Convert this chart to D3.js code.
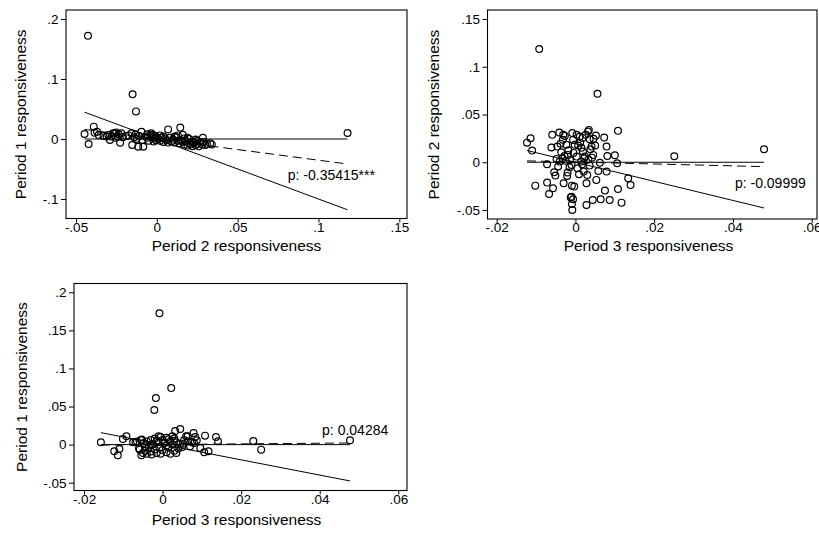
<!DOCTYPE html>
<html><head><meta charset="utf-8">
<script src="https://cdn.jsdelivr.net/npm/d3@7"></script>
<style>
html,body{margin:0;padding:0;background:#fff;}
svg{display:block;font-family:"Liberation Sans",Arial,sans-serif;}
</style></head>
<body>
<svg id="chart" width="819" height="535"></svg>
<script>
// ---------------- DATA ----------------
// Panel 1: x = Period 2 responsiveness, y = Period 1 responsiveness
const panel1Points = [
[-0.0426,0.172],[-0.015,0.0744],[-0.0129,0.046],[0.118,0.010],
[-0.0447,0.0083],[-0.0422,-0.0083],[-0.039,0.0206],[-0.0385,0.0106],[-0.037,0.012],[-0.036,0.0067],
[-0.033,0.005],[-0.031,0.004],[-0.030,0.0067],[-0.029,-0.0017],[-0.028,0.004],[-0.027,0.0094],
[-0.026,0.0094],[-0.0255,0.002],[-0.025,0.011],[-0.024,0.0039],[-0.0235,0.008],[-0.0227,-0.0061],
[-0.022,0.0094],[-0.021,0.003],[-0.019,0.005],[-0.0175,0.006],[-0.0156,0.0094],[-0.0152,-0.010],
[-0.014,0.003],[-0.013,0.008],[-0.0125,0.0],[-0.0115,-0.0128],[-0.011,0.005],[-0.0095,0.012],
[-0.009,-0.0017],[-0.0084,-0.0128],[-0.007,0.004],[-0.006,0.002],[-0.005,-0.003],[-0.004,0.006],
[-0.0035,0.0094],[-0.003,0.003],[-0.0025,0.007],[-0.002,-0.004],[-0.0015,0.001],[-0.001,0.005],
[-0.0005,-0.002],[0.0,0.003],[0.001,0.0],[0.002,-0.003],[0.003,0.002],[0.004,-0.005],[0.005,0.001],
[0.006,-0.002],[0.007,0.016],[0.007,-0.006],[0.008,0.002],[0.009,-0.004],[0.010,-0.001],[0.011,-0.006],
[0.012,0.003],[0.013,-0.003],[0.0145,0.019],[0.014,-0.007],[0.015,-0.002],[0.016,-0.005],[0.016,0.007],
[0.017,-0.009],[0.018,-0.004],[0.019,-0.011],[0.019,0.002],[0.020,-0.007],[0.021,-0.009],[0.022,-0.004],
[0.022,-0.012],[0.023,-0.006],[0.024,-0.01],[0.025,-0.003],[0.025,-0.008],[0.026,-0.012],[0.027,-0.006],
[0.028,-0.009],[0.0285,0.0022],[0.029,-0.005],[0.030,-0.01],[0.031,-0.008],[0.033,-0.007],[0.034,-0.009],
[0.002,0.006],[0.004,0.004],[-0.006,0.008],[0.011,0.004],[0.013,0.006],[0.017,0.001],[0.020,0.0],[0.024,-0.001]
];
// Panel 2: x = Period 3 responsiveness, y = Period 2 responsiveness
const panel2Points = [
[-0.0092,0.1185],[0.0056,0.0717],[0.0479,0.0136],[0.0251,0.0063],
[-0.0123,0.0205],[-0.0114,0.0252],[-0.011,0.0122],[-0.0102,-0.0245],[-0.0072,-0.0213],[-0.0067,-0.0332],
[-0.0057,-0.0273],[-0.0072,-0.0021],[-0.0059,0.0287],[-0.0054,-0.0105],[-0.0051,-0.014],[-0.0061,0.0154],
[-0.0046,0.0164],[-0.0041,0.0311],[-0.0031,0.0287],[-0.0027,0.0276],[-0.0023,0.0182],[-0.003,-0.022],
[-0.0021,-0.0143],[-0.002,-0.0108],[-0.0009,-0.0245],[-0.0003,-0.0255],[-0.001,-0.036],[-0.0006,-0.0388],
[-0.0009,-0.0437],[-0.0008,-0.05],[-0.0012,-0.037],
[0.0028,-0.0448],[0.0044,-0.0395],[0.0064,-0.0388],[0.0087,-0.0395],[0.0117,-0.0423],[0.0075,-0.0297],
[0.0108,-0.028],[0.0134,-0.0168],[0.014,-0.0238],[0.0108,0.0329],[0.01,0.0073],[0.0106,-0.001],
[0.0079,0.0164],[0.0073,0.0259],[0.0081,0.0066],[0.0079,-0.0098],[0.0058,-0.0091],[0.0053,-0.0185],
[0.0052,0.028],[0.005,0.0175],[0.0045,0.0077],[0.0034,0.0339],[0.0032,0.0322],[0.0036,0.0241],
[0.0041,0.0164],[0.0026,0.0287],[0.0019,0.0112],[0.0024,0.0059],[0.003,-0.0133],[0.0028,-0.022],
[0.0015,0.0007],[0.0011,0.0269],[0.0003,0.0287],[0.0007,0.0175],[-0.0002,0.0182],[-0.0006,0.0234],
[0.0003,0.0059],[0.0005,-0.0063],[0.0017,-0.0021],[0.0021,-0.0098],[-0.0019,0.0077],[-0.0033,0.0042],
[-0.0036,0.0105],[-0.004,0.0007],[-0.0044,-0.0045],[-0.0014,0.0024],[-0.001,-0.0028],[-0.0025,0.0015],
[-0.0038,0.0195],[-0.0032,0.0235],[-0.0018,0.0125],[-0.0028,0.0065],[0.0012,0.0205],[0.0038,0.0135],
[0.0046,0.0245],[0.0042,0.0048],[0.0036,-0.0035],[0.0022,0.0042],[-0.0005,0.0098],[0.0009,-0.0125],
[-0.0015,-0.0052],[-0.0048,0.0035],[0.0062,-0.0005],[0.0033,0.0028],[0.0015,0.0152],[-0.0008,0.0305],[0.0018,0.0255]
];
// Panel 3: x = Period 3 responsiveness, y = Period 1 responsiveness
const panel3Points = [
[-0.0008,0.1725],[0.0022,0.0742],[-0.0017,0.0611],[-0.0021,0.0454],[0.0477,0.0057],[-0.0157,0.0031],
[-0.0123,-0.0087],[-0.011,-0.0057],[-0.0114,-0.014],[-0.0101,0.0074],[-0.0092,0.0109],[-0.0075,0.003],
[-0.0069,0.0031],[-0.0065,0.004],[-0.006,-0.005],[-0.0058,-0.0066],[-0.0055,0.006],[-0.0054,-0.014],
[-0.0053,0.0066],[-0.005,-0.011],[-0.0048,0.002],[-0.0045,-0.008],[-0.004,0.004],[-0.004,-0.012],
[-0.0035,-0.003],[-0.003,0.006],[-0.003,-0.009],[-0.0028,-0.013],[-0.0025,0.0],[-0.002,0.008],
[-0.002,-0.006],[-0.0015,-0.011],[-0.001,0.003],[-0.001,0.011],[-0.0008,-0.004],[-0.0005,0.01],
[-0.0005,-0.012],[0.0,0.006],[0.0,-0.007],[0.0005,0.002],[0.001,-0.01],[0.001,0.009],[0.0015,-0.003],
[0.002,0.004],[0.002,-0.012],[0.0025,0.011],[0.0025,0.0],[0.003,-0.008],[0.003,0.008],[0.0032,0.0179],
[0.0035,-0.011],[0.0035,0.003],[0.004,-0.005],[0.0045,0.0205],[0.0045,0.001],[0.005,-0.003],
[0.0052,0.0013],[0.006,0.011],[0.0064,0.0109],[0.007,-0.0022],[0.0075,0.0031],[0.0079,0.0153],
[0.0083,0.01],[0.0087,0.0057],[0.0096,-0.0044],[0.0106,-0.01],[0.0108,0.0118],[0.0117,-0.0087],
[0.0136,0.01],[0.0141,0.0044],[0.0231,0.0048],[0.0251,-0.0066],[0.003,0.005],[-0.0015,0.005],
[0.0015,0.007],[-0.003,0.0],[0.001,-0.001],[0.0055,0.006],[0.0065,0.004],[0.008,0.002],[-0.0045,-0.002]
];

// Fitted lines (slope = reported p, intercept)
const fitSlopes = [-0.35415, -0.09999, 0.04284];
const fitIntercepts = [0.0001, 0.0002, 0.0001];
const pLabels = ["p: -0.35415***", "p: -0.09999", "p: 0.04284"];
const pLabelAnchors = [[0.081, -0.0683], [0.0405, -0.0269], [0.0406, 0.0122]];

const xTitles = ["Period 2 responsiveness", "Period 3 responsiveness", "Period 3 responsiveness"];
const yTitles = ["Period 1 responsiveness", "Period 2 responsiveness", "Period 1 responsiveness"];

const panel1XTicks = [-0.05, 0, 0.05, 0.1, 0.15];
const panel1XLabels = ["-.05", "0", ".05", ".1", ".15"];
const panel1YTicks = [-0.1, 0, 0.1, 0.2];
const panel1YLabels = ["-.1", "0", ".1", ".2"];
const panel2XTicks = [-0.02, 0, 0.02, 0.04, 0.06];
const panel2XLabels = ["-.02", "0", ".02", ".04", ".06"];
const panel2YTicks = [-0.05, 0, 0.05, 0.1, 0.15];
const panel2YLabels = ["-.05", "0", ".05", ".1", ".15"];
const panel3XTicks = [-0.02, 0, 0.02, 0.04, 0.06];
const panel3XLabels = ["-.02", "0", ".02", ".04", ".06"];
const panel3YTicks = [-0.05, 0, 0.05, 0.1, 0.15, 0.2];
const panel3YLabels = ["-.05", "0", ".05", ".1", ".15", ".2"];

// ---------------- LAYOUT ----------------
const panels = [
  {pts: panel1Points, xT: panel1XTicks, xL: panel1XLabels, yT: panel1YTicks, yL: panel1YLabels,
   box: {l: 66, r: 407, t: 10, b: 218.5}, xr: [76, 399.3], yr: [199, 19], titleX: 236.5, titleY: 251, ytitleX: 20},
  {pts: panel2Points, xT: panel2XTicks, xL: panel2XLabels, yT: panel2YTicks, yL: panel2YLabels,
   box: {l: 487.5, r: 817, t: 10, b: 219}, xr: [496.7, 811.7], yr: [210, 19], titleX: 648.5, titleY: 251, ytitleX: 433},
  {pts: panel3Points, xT: panel3XTicks, xL: panel3XLabels, yT: panel3YTicks, yL: panel3YLabels,
   box: {l: 74, r: 407, t: 283.5, b: 490.5}, xr: [84, 398.3], yr: [482.7, 292.3], titleX: 236.5, titleY: 524.5, ytitleX: 21.5}
];

const svg = d3.select("#chart");
const FONT_TICK = 13.5, FONT_TITLE = 15.5, FONT_NOTE = 14;

panels.forEach((p, i) => {
  const xs = p.xT, ys = p.yT;
  const x = d3.scaleLinear().domain([xs[0], xs[xs.length - 1]]).range(p.xr);
  const y = d3.scaleLinear().domain([ys[0], ys[ys.length - 1]]).range(p.yr);
  const g = svg.append("g");
  const b = p.box;

  // frame
  g.append("rect").attr("x", b.l).attr("y", b.t).attr("width", b.r - b.l).attr("height", b.b - b.t)
    .attr("fill", "none").attr("stroke", "#000").attr("stroke-width", 1.1);

  // axes
  const xAxis = d3.axisBottom(x).tickValues(xs).tickFormat((d, k) => p.xL[k]).tickSize(4);
  const gx = g.append("g").attr("transform", `translate(0,${b.b})`).call(xAxis);
  gx.select(".domain").remove();
  gx.selectAll("line").attr("stroke", "#000");
  gx.selectAll("text").attr("font-size", FONT_TICK).attr("font-family", "Liberation Sans, Arial, sans-serif")
    .attr("fill", "#000").attr("y", 13).attr("dy", 0);

  const yAxis = d3.axisLeft(y).tickValues(ys).tickFormat((d, k) => p.yL[k]).tickSize(5).tickPadding(2.5);
  const gy = g.append("g").attr("transform", `translate(${b.l},0)`).call(yAxis);
  gy.select(".domain").remove();
  gy.selectAll("line").attr("stroke", "#000");
  gy.selectAll("text").attr("font-size", FONT_TICK).attr("font-family", "Liberation Sans, Arial, sans-serif").attr("fill", "#000");

  // titles
  g.append("text").attr("x", p.titleX).attr("y", p.titleY).attr("text-anchor", "middle")
    .attr("font-size", FONT_TITLE).attr("fill", "#000").text(xTitles[i]);
  const my = (b.t + b.b) / 2;
  g.append("text").attr("transform", `translate(${p.ytitleX},${my}) rotate(-90)`).attr("text-anchor", "middle")
    .attr("dominant-baseline", "central").attr("font-size", FONT_TITLE).attr("fill", "#000").text(yTitles[i]);

  // lines
  const xmin = d3.min(p.pts, d => d[0]), xmax = d3.max(p.pts, d => d[0]);
  const line = d3.line().x(d => x(d[0])).y(d => y(d[1]));
  g.append("path").datum([[xmin, 0], [xmax, 0]]).attr("d", line)
    .attr("fill", "none").attr("stroke", "#000").attr("stroke-width", 1);
  g.append("path").datum([[xmin, -xmin], [xmax, -xmax]]).attr("d", line)
    .attr("fill", "none").attr("stroke", "#000").attr("stroke-width", 1);
  g.append("path").datum([[xmin, fitIntercepts[i] + fitSlopes[i] * xmin], [xmax, fitIntercepts[i] + fitSlopes[i] * xmax]])
    .attr("d", line).attr("fill", "none").attr("stroke", "#000").attr("stroke-width", 1).attr("stroke-dasharray", "9,5");

  // points
  g.selectAll("circle.pt").data(p.pts).enter().append("circle").attr("class", "pt")
    .attr("cx", d => x(d[0])).attr("cy", d => y(d[1])).attr("r", 3.4)
    .attr("fill", "none").attr("stroke", "#000").attr("stroke-width", 1.2);

  // annotation
  g.append("text").attr("x", x(pLabelAnchors[i][0])).attr("y", y(pLabelAnchors[i][1]))
    .attr("font-size", FONT_NOTE).attr("fill", "#000").text(pLabels[i]);
});
</script>
</body></html>
